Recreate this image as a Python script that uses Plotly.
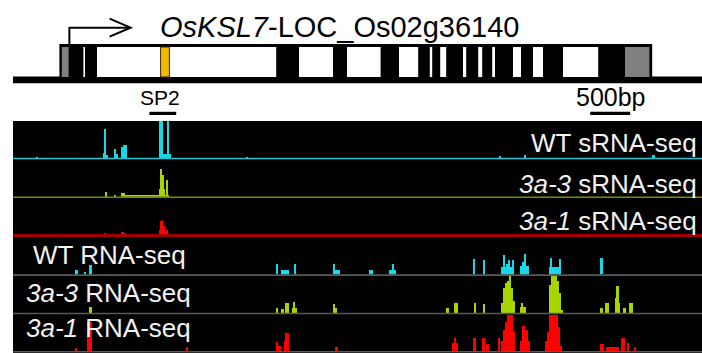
import plotly.graph_objects as go

# ---------------- data (positions in bp from the left end of the locus) ----------------
GENE_START, GENE_END = 580, 7990
TSS, TSS_ARROW_END = 705, 1470
UTR_SEGMENTS = [(610, 695), (7650, 7955)]
INTRON_SEGMENTS = [(880, 900), (1050, 3290), (3575, 4000), (4175, 4595), (4825, 5065),
                   (5210, 5240), (5340, 5415), (5625, 5665), (5815, 5865), (5990, 6025),
                   (6250, 6350), (6500, 6625), (6875, 7315)]
SP2_REGION = (1845, 1955)
SP2_PROBE = (1705, 2040)
SCALE_BAR = (7215, 7715)   # 500 bp

# coverage segments: (start bp, end bp, signal)
WT_SRNA = [(290, 310, 1), (1125, 1140, 5), (1140, 1163, 29), (1163, 1178, 3),
           (1263, 1288, 9), (1288, 1306, 4), (1356, 1381, 11), (1381, 1419, 13),
           (1825, 1835, 4), (1831, 1881, 60), (1881, 1925, 4), (1925, 1952, 60),
           (1952, 1965, 4), (2913, 2931, 1), (6081, 6100, 1.5), (6388, 6413, 3),
           (7988, 8025, 3)]
MUT33_SRNA = [(1144, 1169, 4.5), (1269, 1288, 2), (1356, 1406, 3.5), (1406, 1831, 1.2),
              (1831, 1844, 8), (1844, 1863, 27.5), (1863, 1881, 21), (1881, 1894, 8),
              (1894, 1919, 1.5), (1919, 1938, 16.5), (1938, 1950, 2)]
MUT31_SRNA = [(1144, 1163, 1.5), (1269, 1288, 1), (1356, 1388, 3), (1388, 1406, 1.5),
              (1831, 1844, 5), (1844, 1863, 14), (1863, 1875, 15), (1875, 1894, 9),
              (1894, 1906, 3), (1919, 1938, 5)]
WT_RNA = [(781, 813, 5), (894, 913, 3), (950, 988, 9.5), (3288, 3306, 10), (3344, 3456, 5),
          (3513, 3538, 10), (4000, 4018, 10), (4019, 4088, 5), (4454, 4496, 5),
          (4704, 4788, 5), (4738, 4756, 10), (5750, 5779, 15), (5871, 5896, 14),
          (6104, 6259, 7), (6131, 6156, 19), (6163, 6188, 10), (6188, 6206, 14),
          (6238, 6256, 14), (6341, 6446, 8), (6363, 6388, 12), (6394, 6413, 20),
          (6704, 6854, 7), (6719, 6738, 16), (6831, 6850, 15), (7341, 7371, 16)]
MUT33_RNA = [(954, 984, 6), (3288, 3316, 5), (3346, 3388, 4.5), (3400, 3454, 10),
             (3484, 3546, 5), (3506, 3521, 11), (4004, 4046, 5), (4006, 4021, 9),
             (5413, 5454, 5), (5513, 5566, 10), (5759, 5788, 10), (5871, 5896, 9),
             (6104, 6125, 10), (6125, 6150, 25), (6150, 6175, 30), (6175, 6194, 32),
             (6194, 6231, 40), (6231, 6250, 25), (6250, 6271, 12), (6341, 6413, 6),
             (6350, 6363, 10), (6704, 6725, 28), (6725, 6800, 40), (6800, 6825, 32),
             (6825, 6844, 20), (6856, 6875, 3), (7341, 7371, 5), (7396, 7446, 10),
             (7525, 7538, 15), (7538, 7571, 27.5), (7571, 7588, 10), (7621, 7663, 5),
             (7696, 7746, 10)]
MUT31_RNA = [(781, 806, 3), (931, 988, 30), (2163, 2181, 4), (3288, 3313, 9),
             (3313, 3346, 5), (3388, 3400, 10), (3400, 3454, 19), (4025, 4066, 4),
             (5484, 5513, 8), (5513, 5538, 14), (5538, 5566, 8), (5750, 5788, 13),
             (5863, 5896, 13), (5913, 5946, 7), (6063, 6091, 13), (6104, 6125, 10),
             (6125, 6150, 22), (6150, 6175, 30), (6175, 6250, 40), (6250, 6271, 20),
             (6341, 6363, 10), (6363, 6400, 26), (6400, 6438, 22), (6438, 6466, 10),
             (6646, 6675, 10), (6675, 6700, 20), (6700, 6813, 40), (6813, 6838, 25),
             (6838, 6854, 5), (7341, 7384, 7), (7413, 7571, 4), (7604, 7654, 13),
             (7675, 7704, 8), (7759, 7788, 4)]

TRACK_LABELS = ["WT sRNA-seq", "<i>3a-3</i> sRNA-seq", "<i>3a-1</i> sRNA-seq",
                "WT RNA-seq", "<i>3a-3</i> RNA-seq", "<i>3a-1</i> RNA-seq"]
GENE_TITLE = "<i>OsKSL7</i>-LOC_Os02g36140"

# ---------------- layout helpers ----------------
W, H = 702, 353
BP_PER_PX = 12.5
X_RANGE = [-13 * BP_PER_PX, (W - 13) * BP_PER_PX]
FONT = "Liberation Sans, Arial, sans-serif"


def yp(py):
    """screen row -> paper fraction"""
    return 1 - py / H


def xp(px):
    return px / W


fig = go.Figure()

# track geometry: (top row, baseline row, fill colour, baseline colour, data)
tracks = [
    (121, 158.0, "#18d8e8", "#22c4d2", WT_SRNA),
    (159, 196.8, "#a8d400", "#6f8f00", MUT33_SRNA),
    (198, 235.0, "#ff0000", "#a00000", MUT31_SRNA),
    (237, 274.6, "#18d8e8", "#5a5a5a", WT_RNA),
    (276, 313.0, "#a8d400", "#5a5a5a", MUT33_RNA),
    (315, 351.2, "#ff0000", "#5a5a5a", MUT31_RNA),
]
SIGNAL_MAX = 37

shapes = []
# black browser panel
shapes.append(dict(type="rect", xref="paper", yref="paper", x0=xp(13), x1=1,
                   y0=0, y1=yp(121), fillcolor="#000000", line_width=0, layer="below"))

for i, (top, base, fill, basecol, segs) in enumerate(tracks):
    ax = "" if i == 0 else str(i + 1)
    centers = [(s + e) / 2 for s, e, v in segs]
    widths = [e - s for s, e, v in segs]
    vals = [v for s, e, v in segs]
    fig.add_trace(go.Bar(x=centers, y=vals, width=widths, marker_color=fill,
                         marker_line_width=0, xaxis="x", yaxis="y" + ax,
                         hoverinfo="skip", showlegend=False))
    fig.layout["yaxis" + ax] = dict(domain=[yp(base), yp(top)], range=[0, SIGNAL_MAX],
                                    visible=False, fixedrange=True, anchor="x")
    thick = 3 if i == 2 else 1.6
    shapes.append(dict(type="line", xref="paper", yref="paper", x0=xp(13), x1=1,
                       y0=yp(base + 0.5), y1=yp(base + 0.5),
                       line=dict(color=basecol, width=thick), layer="above"))

# ---------------- gene model ----------------
BOX_TOP, BOX_BOT = 44, 79
IN_TOP, IN_BOT = 47, 77
shapes.append(dict(type="rect", xref="x", yref="paper", x0=0, x1=X_RANGE[1],
                   y0=yp(83.2), y1=yp(76.5), fillcolor="#000000", line_width=0))
shapes.append(dict(type="rect", xref="x", yref="paper", x0=GENE_START, x1=GENE_END,
                   y0=yp(BOX_BOT), y1=yp(BOX_TOP), fillcolor="#000000", line_width=0))
for s, e in INTRON_SEGMENTS:
    shapes.append(dict(type="rect", xref="x", yref="paper", x0=s, x1=e,
                       y0=yp(IN_BOT), y1=yp(IN_TOP), fillcolor="#ffffff", line_width=0))
for s, e in UTR_SEGMENTS:
    shapes.append(dict(type="rect", xref="x", yref="paper", x0=s, x1=e,
                       y0=yp(IN_BOT), y1=yp(IN_TOP), fillcolor="#808080", line_width=0))
shapes.append(dict(type="rect", xref="x", yref="paper", x0=SP2_REGION[0], x1=SP2_REGION[1],
                   y0=yp(IN_BOT), y1=yp(IN_TOP), fillcolor="#f5b800",
                   line=dict(color="#3a2a00", width=1)))

# transcription start arrow
ARROW_Y = 27.7
shapes.append(dict(type="path", xref="x", yref="paper",
                   path=f"M {TSS},{yp(BOX_TOP)} L {TSS},{yp(ARROW_Y)} L {TSS_ARROW_END},{yp(ARROW_Y)}",
                   line=dict(color="#000000", width=2)))
head = 21 * BP_PER_PX
shapes.append(dict(type="path", xref="x", yref="paper",
                   path=(f"M {TSS_ARROW_END - head},{yp(ARROW_Y - 9)} L {TSS_ARROW_END},{yp(ARROW_Y)} "
                         f"L {TSS_ARROW_END - head},{yp(ARROW_Y + 9)}"),
                   line=dict(color="#000000", width=2)))

# probe and scale bars
for s, e in (SP2_PROBE, SCALE_BAR):
    shapes.append(dict(type="rect", xref="x", yref="paper", x0=s, x1=e,
                       y0=yp(115), y1=yp(111.8), fillcolor="#000000", line_width=0))

annotations = [
    dict(text=GENE_TITLE, x=xp(158), y=yp(26.5), xref="paper", yref="paper",
         xanchor="left", yanchor="middle", showarrow=False,
         font=dict(family=FONT, size=29, color="#000000")),
    dict(text="SP2", x=(SP2_PROBE[0] + SP2_PROBE[1]) / 2 - 3 * BP_PER_PX, y=yp(97.5),
         xref="x", yref="paper", xanchor="center", yanchor="middle", showarrow=False,
         font=dict(family=FONT, size=21, color="#000000")),
    dict(text="500bp", x=(SCALE_BAR[0] + SCALE_BAR[1]) / 2 + 1 * BP_PER_PX, y=yp(97.5),
         xref="x", yref="paper", xanchor="center", yanchor="middle", showarrow=False,
         font=dict(family=FONT, size=25, color="#000000")),
]
label_pos = [("right", 699, 143), ("right", 699, 184.5), ("right", 699, 221),
             ("left", 31, 255), ("left", 24, 292.5), ("left", 24, 328)]
for text, (anchor, px, py) in zip(TRACK_LABELS, label_pos):
    annotations.append(dict(text=text, x=xp(px), y=yp(py), xref="paper", yref="paper",
                            xanchor=anchor, yanchor="middle", showarrow=False,
                            font=dict(family=FONT, size=26, color="#f2f2f2")))

fig.update_layout(
    width=W, height=H, margin=dict(l=0, r=0, t=0, b=0),
    paper_bgcolor="#ffffff", plot_bgcolor="rgba(0,0,0,0)",
    barmode="overlay", bargap=0,
    xaxis=dict(range=X_RANGE, domain=[0, 1], visible=False, fixedrange=True, anchor="y"),
    shapes=shapes, annotations=annotations, showlegend=False,
)

fig.write_html("out.html")
